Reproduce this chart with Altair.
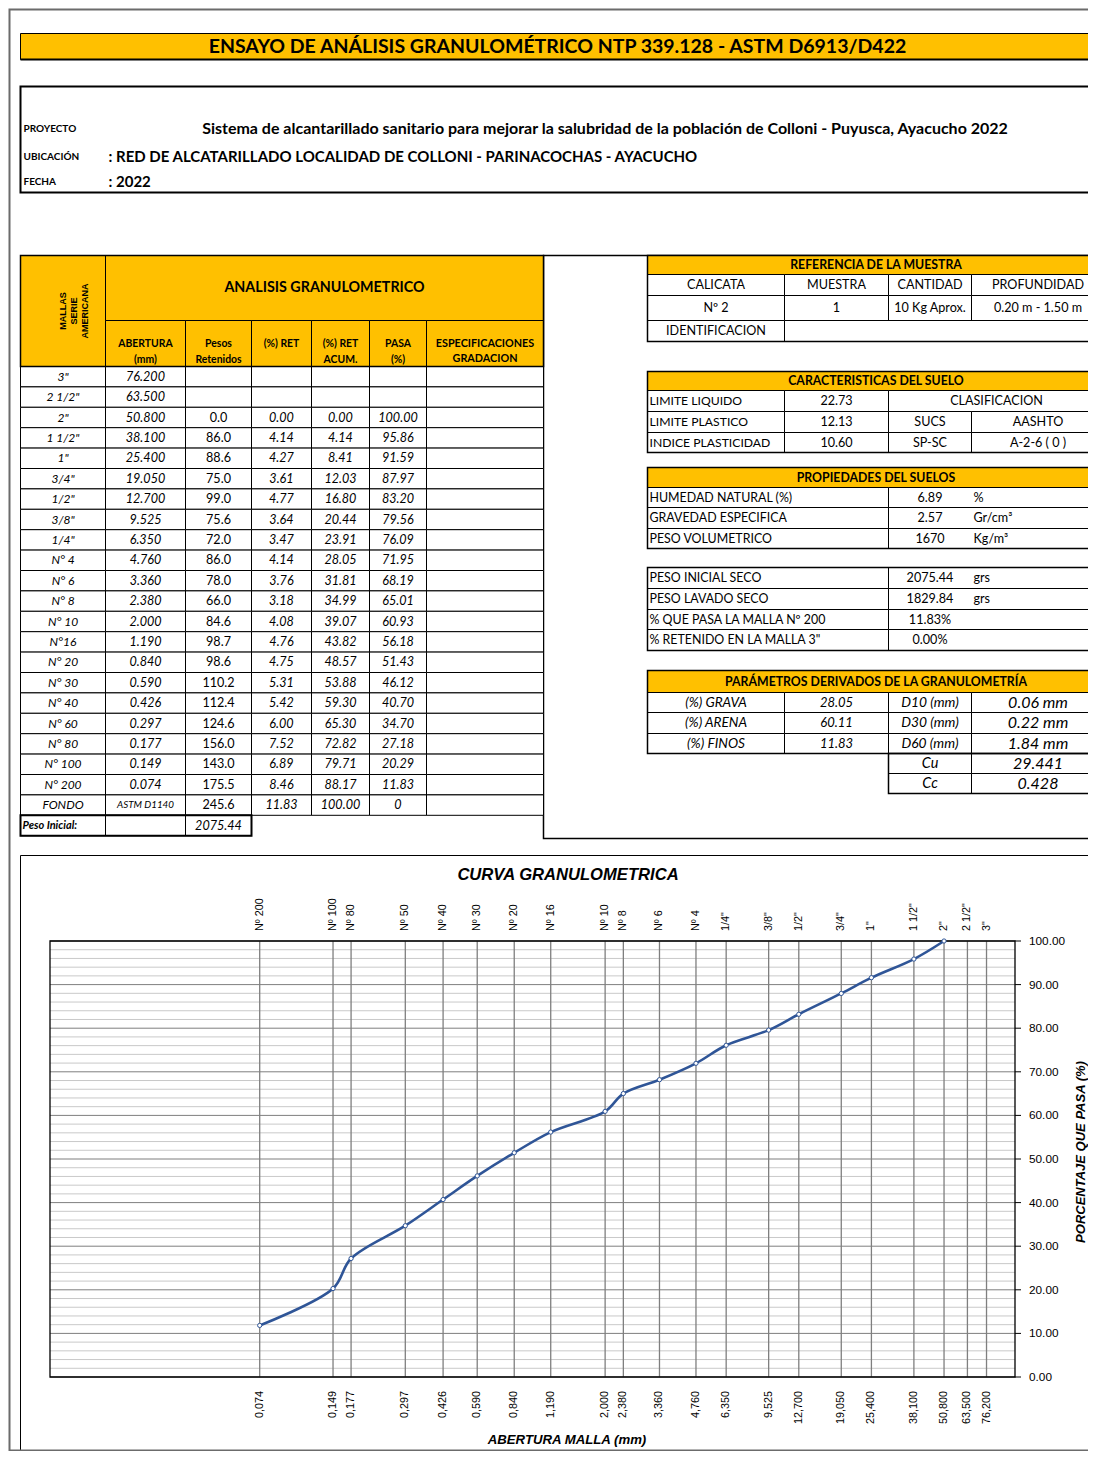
import altair as alt
import numpy as np
import pandas as pd

# ---------------------------------------------------------------- data
TITLE = "ENSAYO DE ANÁLISIS GRANULOMÉTRICO NTP 339.128 - ASTM D6913/D422"
INFO_LABELS = ["PROYECTO", "UBICACIÓN", "FECHA"]
INFO_TEXTS = [
    "Sistema de alcantarillado sanitario para mejorar la salubridad de la población de Colloni - Puyusca, Ayacucho 2022",
    ": RED DE ALCATARILLADO LOCALIDAD DE COLLONI - PARINACOCHAS - AYACUCHO",
    ": 2022",
]

SIEVES = ['3"', '2 1/2"', '2"', '1 1/2"', '1"', '3/4"', '1/2"', '3/8"', '1/4"', 'N° 4', 'N° 6',
          'N° 8', 'N° 10', 'N°16', 'N° 20', 'N° 30', 'N° 40', 'N° 60', 'N° 80', 'N° 100', 'N° 200', 'FONDO']
ABERTURA = [76.2, 63.5, 50.8, 38.1, 25.4, 19.05, 12.7, 9.525, 6.35, 4.76, 3.36, 2.38, 2.0, 1.19,
            0.84, 0.59, 0.426, 0.297, 0.177, 0.149, 0.074, None]
PESOS = [None, None, 0.0, 86.0, 88.6, 75.0, 99.0, 75.6, 72.0, 86.0, 78.0, 66.0, 84.6, 98.7, 98.6,
         110.2, 112.4, 124.6, 156.0, 143.0, 175.5, 245.6]
RET = [None, None, 0.00, 4.14, 4.27, 3.61, 4.77, 3.64, 3.47, 4.14, 3.76, 3.18, 4.08, 4.76, 4.75,
       5.31, 5.42, 6.00, 7.52, 6.89, 8.46, 11.83]
ACUM = [None, None, 0.00, 4.14, 8.41, 12.03, 16.80, 20.44, 23.91, 28.05, 31.81, 34.99, 39.07, 43.82,
        48.57, 53.88, 59.30, 65.30, 72.82, 79.71, 88.17, 100.00]
PASA = [None, None, 100.00, 95.86, 91.59, 87.97, 83.20, 79.56, 76.09, 71.95, 68.19, 65.01, 60.93,
        56.18, 51.43, 46.12, 40.70, 34.70, 27.18, 20.29, 11.83, 0]
FONDO_NOTE = "ASTM D1140"
PESO_INICIAL = 2075.44

REF_HEAD = ["CALICATA", "MUESTRA", "CANTIDAD", "PROFUNDIDAD"]
REF_VALS = ["Nº 2", "1", "10 Kg Aprox.", "0.20 m - 1.50 m"]
CARACT_LABELS = ["LIMITE LIQUIDO", "LIMITE PLASTICO", "INDICE PLASTICIDAD"]
CARACT_VALUES = [22.73, 12.13, 10.60]
CLASIF_HEAD = ["SUCS", "AASHTO"]
CLASIF_VALS = ["SP-SC", "A-2-6 ( 0 )"]
PROP_LABELS = ["HUMEDAD NATURAL (%)", "GRAVEDAD ESPECIFICA", "PESO VOLUMETRICO"]
PROP_VALUES = ["6.89", "2.57", "1670"]
PROP_UNITS = ["%", "Gr/cm³", "Kg/m³"]
PESO_LABELS = ["PESO INICIAL SECO", "PESO LAVADO SECO", "% QUE PASA LA MALLA  Nº 200",
               '% RETENIDO EN LA  MALLA   3"']
PESO_VALUES = ["2075.44", "1829.84", "11.83%", "0.00%"]
PESO_UNITS = ["grs", "grs", "", ""]
FRAC_LABELS = ["(%) GRAVA", "(%) ARENA", "(%) FINOS"]
FRAC_VALUES = [28.05, 60.11, 11.83]
D_LABELS = ["D10 (mm)", "D30 (mm)", "D60 (mm)", "Cu", "Cc"]
D_VALUES = ["0.06 mm", "0.22 mm", "1.84 mm", "29.441", "0.428"]

MALLA_NAMES = ["Nº 200", "Nº 100", "Nº 80", "Nº 50", "Nº 40", "Nº 30", "Nº 20", "Nº 16", "Nº 10",
               "Nº 8", "Nº 6", "Nº 4", '1/4"', '3/8"', '1/2"', '3/4"', '1"', '1 1/2"', '2"',
               '2 1/2"', '3"']
Y_TICKS = list(range(0, 101, 10))

# ---------------------------------------------------------------- layout / style
OFF = 8
W, H = 1080, 1443
YEL = "#FFC000"
CAL = "Lato"
ARIAL = "Liberation Sans"
BLUE = "#2F5597"
TS = 12.6  # table text size


def grid_scales(cols, rows):
    xs = alt.Scale(type="linear", domain=list(range(len(cols))),
                   range=[round(c - OFF + 0.5, 2) for c in cols], nice=False, zero=False)
    ys = alt.Scale(type="linear", domain=list(range(len(rows))),
                   range=[round(r - OFF + 0.5, 2) for r in rows], nice=False, zero=False)
    return xs, ys


def cell(r, c, text="", cs=1, rs=1, box=True, fill="white", align="center", size=TS,
         weight="normal", style="normal", font=CAL, angle=0, dx=0, color="black", lh=None):
    return dict(r=r, c=c, text=text, cs=cs, rs=rs, box=box, fill=fill, align=align, size=size,
                weight=weight, style=style, font=font, angle=angle, dx=dx, color=color,
                lh=lh if lh else size + 2)


def build_table(cells, cols, rows, outlines=(), line_w=1):
    xs, ys = grid_scales(cols, rows)
    cpx = np.asarray(cols, float)
    rpx = np.asarray(rows, float)
    ci = np.arange(len(cols), dtype=float)
    ri = np.arange(len(rows), dtype=float)
    rects, texts = [], []
    for k in cells:
        c0, c1 = k["c"], k["c"] + k["cs"]
        r0, r1 = k["r"], k["r"] + k["rs"]
        if k["box"]:
            rects.append(dict(c0=c0, c1=c1, r0=r0, r1=r1, fill=k["fill"]))
        if k["text"] != "":
            if k["align"] == "left":
                xi = float(c0)
            elif k["align"] == "right":
                xi = float(c1)
            else:
                xi = float(np.interp((cpx[c0] + cpx[c1]) / 2, cpx, ci))
            yi = float(np.interp((rpx[r0] + rpx[r1]) / 2, rpx, ri))
            t = dict(k)
            t.update(xi=xi, yi=yi)
            texts.append(t)
    layers = []
    if rects:
        layers.append(
            alt.Chart(pd.DataFrame(rects)).mark_rect(stroke="black", strokeWidth=line_w).encode(
                x=alt.X("c0:Q", scale=xs, axis=None), x2="c1:Q",
                y=alt.Y("r0:Q", scale=ys, axis=None), y2="r1:Q",
                fill=alt.Fill("fill:N", scale=None, legend=None)))
    if outlines:
        odf = pd.DataFrame(outlines, columns=["c0", "c1", "r0", "r1", "w", "col"])
        for (w, col), g in odf.groupby(["w", "col"]):
            layers.append(
                alt.Chart(g).mark_rect(fillOpacity=0, stroke=col, strokeWidth=float(w)).encode(
                    x=alt.X("c0:Q", scale=xs, axis=None), x2="c1:Q",
                    y=alt.Y("r0:Q", scale=ys, axis=None), y2="r1:Q"))
    if texts:
        tdf = pd.DataFrame(texts)
        keys = ["align", "size", "weight", "style", "font", "angle", "dx", "color", "lh"]
        for key, g in tdf.groupby(keys):
            a, s, wt, st, f, ang, dx, col, lh = key
            layers.append(
                alt.Chart(g[["xi", "yi", "text"]]).mark_text(
                    align=a, baseline="middle", fontSize=float(s), fontWeight=wt, fontStyle=st,
                    font=f, angle=float(ang), dx=float(dx), color=col, lineBreak="\n",
                    lineHeight=float(lh)).encode(
                    x=alt.X("xi:Q", scale=xs, axis=None),
                    y=alt.Y("yi:Q", scale=ys, axis=None),
                    text="text:N"))
    return alt.layer(*layers)


# ---------------------------------------------------------------- page frame
P_COLS = [9, 20, 543, 1104]
P_ROWS = [9, 255, 838, 855, 1450]
page_layer = build_table([], P_COLS, P_ROWS, outlines=[
    (0, 3, 0, 4, 2, "#6b6b6b"),
    (2, 3, 1, 2, 1.5, "black"),
    (1, 3, 3, 4, 1, "black"),
])

# ---------------------------------------------------------------- header
H_COLS = [20, 105, 1104]
H_ROWS = [33, 59, 86, 114, 142, 170, 192]
hcells = [cell(0, 0, TITLE, cs=2, fill=YEL, size=19.5, weight="bold", dx=-5)]
for i, (lab, txt) in enumerate(zip(INFO_LABELS, INFO_TEXTS)):
    hcells.append(cell(3 + i, 0, lab, box=False, align="left", dx=3, size=10, weight="bold"))
    if i == 0:
        hcells.append(cell(3 + i, 1, txt, box=False, size=16, weight="bold"))
    else:
        hcells.append(cell(3 + i, 1, txt, box=False, align="left", dx=3, size=15, weight="bold"))
header_layer = build_table(hcells, H_COLS, H_ROWS,
                           outlines=[(0, 2, 1, 1, 2, "black"), (0, 2, 2, 6, 2, "black")])

# ---------------------------------------------------------------- left table
L_COLS = [20, 105, 185, 251, 311, 369, 426, 543]
L_ROWS = [255, 320, 366] + [round(366 + 20.4 * i, 1) for i in range(1, 24)]
lcells = [
    cell(0, 0, "MALLAS\nSERIE\nAMERICANA", rs=2, fill=YEL, size=9, weight="bold", font=ARIAL,
         angle=270, lh=11),
    cell(0, 1, "ANALISIS GRANULOMETRICO", cs=6, fill=YEL, size=14.3, weight="bold"),
    cell(1, 1, "ABERTURA\n(mm)", fill=YEL, size=10.4, weight="bold", lh=16),
    cell(1, 2, "Pesos\nRetenidos", fill=YEL, size=10.4, weight="bold", lh=16),
    cell(1, 3, "(%) RET", fill=YEL, size=10.4, weight="bold"),
    cell(1, 4, "(%) RET\nACUM.", fill=YEL, size=10.4, weight="bold", lh=16),
    cell(1, 5, "PASA\n(%)", fill=YEL, size=10.4, weight="bold", lh=16),
    cell(1, 6, "ESPECIFICACIONES\nGRADACION", fill=YEL, size=10.8, weight="bold", lh=15),
]


def fmt(v, d):
    if v is None:
        return ""
    if isinstance(v, int):
        return str(v)
    return f"{v:.{d}f}"


for i in range(len(SIEVES)):
    r = 2 + i
    lcells.append(cell(r, 0, SIEVES[i], size=12, style="italic"))
    if ABERTURA[i] is None:
        lcells.append(cell(r, 1, FONDO_NOTE, size=9.8, style="italic"))
    else:
        lcells.append(cell(r, 1, fmt(ABERTURA[i], 3), style="italic"))
    lcells.append(cell(r, 2, fmt(PESOS[i], 1)))
    lcells.append(cell(r, 3, fmt(RET[i], 2), style="italic"))
    lcells.append(cell(r, 4, fmt(ACUM[i], 2), style="italic"))
    lcells.append(cell(r, 5, fmt(PASA[i], 2), style="italic"))
    lcells.append(cell(r, 6, ""))
lcells += [
    cell(24, 0, "Peso Inicial:", align="left", dx=2, size=11, weight="bold", style="italic"),
    cell(24, 1, ""),
    cell(24, 2, f"{PESO_INICIAL:.2f}", style="italic"),
]
left_layer = build_table(lcells, L_COLS, L_ROWS, outlines=[
    (0, 7, 0, 2, 1.5, "black"), (0, 3, 24, 25, 2, "black")])

# ---------------------------------------------------------------- right tables
R_COLS = [647, 784, 888, 971, 1104]
R_ROWS = [255, 274, 295, 320, 341, 371, 390, 411, 432, 452, 467, 487, 507, 528, 548,
          567, 588, 609, 629, 650, 670, 692, 712, 733, 753, 773, 793]
HS = dict(fill=YEL, size=12.3, weight="bold")
rcells = [cell(0, 0, "REFERENCIA DE LA MUESTRA", cs=4, **HS)]
for j in range(4):
    rcells.append(cell(1, j, REF_HEAD[j]))
    rcells.append(cell(2, j, REF_VALS[j]))
rcells += [cell(3, 0, "IDENTIFICACION"), cell(3, 1, "", cs=3)]

rcells.append(cell(5, 0, "CARACTERISTICAS DEL SUELO", cs=4, **HS))
for i in range(3):
    r = 6 + i
    rcells.append(cell(r, 0, CARACT_LABELS[i], align="left", dx=2, size=12.2))
    rcells.append(cell(r, 1, f"{CARACT_VALUES[i]:.2f}"))
rcells.append(cell(6, 2, "CLASIFICACION", cs=2))
for j in range(2):
    rcells.append(cell(7, 2 + j, CLASIF_HEAD[j]))
    rcells.append(cell(8, 2 + j, CLASIF_VALS[j]))

rcells.append(cell(10, 0, "PROPIEDADES DEL SUELOS", cs=4, **HS))
for i in range(3):
    r = 11 + i
    rcells.append(cell(r, 0, PROP_LABELS[i], cs=2, align="left", dx=2, size=12.4))
    rcells.append(cell(r, 2, "", cs=2))
    rcells.append(cell(r, 2, PROP_VALUES[i], box=False))
    rcells.append(cell(r, 3, PROP_UNITS[i], box=False, align="left", dx=2))

for i in range(4):
    r = 15 + i
    rcells.append(cell(r, 0, PESO_LABELS[i], cs=2, align="left", dx=2, size=12.4))
    rcells.append(cell(r, 2, "", cs=2))
    rcells.append(cell(r, 2, PESO_VALUES[i], box=False))
    if PESO_UNITS[i]:
        rcells.append(cell(r, 3, PESO_UNITS[i], box=False, align="left", dx=2))

rcells.append(cell(20, 0, "PARÁMETROS DERIVADOS DE LA GRANULOMETRÍA", cs=4, **HS))
for i in range(3):
    r = 21 + i
    rcells.append(cell(r, 0, FRAC_LABELS[i], size=13.6, style="italic"))
    rcells.append(cell(r, 1, f"{FRAC_VALUES[i]:.2f}", size=13, style="italic"))
for i in range(5):
    r = 21 + i
    rcells.append(cell(r, 2, D_LABELS[i], size=13.8 if i < 3 else 14.5, style="italic"))
    rcells.append(cell(r, 3, D_VALUES[i], size=16, style="italic"))
right_layer = build_table(rcells, R_COLS, R_ROWS, outlines=[
    (0, 4, 0, 4, 1.5, "black"), (0, 4, 5, 9, 1.5, "black"), (0, 4, 10, 14, 1.5, "black"),
    (0, 4, 15, 19, 1.5, "black"), (0, 4, 20, 24, 1.5, "black"), (2, 4, 24, 26, 1.5, "black")])

# ---------------------------------------------------------------- graph
xs_g = alt.Scale(type="log", domain=[0.01, 100], range=[50 - OFF, 1015 - OFF], nice=False)
ys_g = alt.Scale(type="linear", domain=[0, 100], range=[1377 - OFF, 941 - OFF], nice=False,
                 zero=False)
XG = lambda f: alt.X(f, scale=xs_g, axis=None)
YG = lambda f: alt.Y(f, scale=ys_g, axis=None)

open_g = sorted(a for a in ABERTURA if a is not None)
curve = pd.DataFrame(sorted((a, p) for a, p in zip(ABERTURA, PASA)
                            if a is not None and p is not None), columns=["abertura", "pasa"])
hgrid = pd.DataFrame({"v": list(range(0, 101, 2))})
hgrid["x0"], hgrid["x1"] = 0.01, 100
hgrid["major"] = hgrid["v"] % 10 == 0
vgrid = pd.DataFrame({"abertura": open_g, "y0": 0, "y1": 100})
frame = pd.DataFrame({"x0": [0.01], "x1": [100], "y0": [0], "y1": [100]})
ylab = pd.DataFrame({"v": Y_TICKS, "t": [f"{v:.2f}" for v in Y_TICKS]})
toplab = pd.DataFrame({"abertura": open_g, "t": MALLA_NAMES})
botlab = pd.DataFrame({"abertura": open_g, "t": [f"{a:.3f}".replace(".", ",") for a in open_g]})

g_layers = [
    alt.Chart(hgrid[~hgrid["major"]]).mark_rule(color="#c9c9c9", strokeWidth=1).encode(
        x=XG("x0:Q"), x2="x1:Q", y=YG("v:Q")),
    alt.Chart(hgrid[hgrid["major"]]).mark_rule(color="#7f7f7f", strokeWidth=1).encode(
        x=XG("x0:Q"), x2="x1:Q", y=YG("v:Q")),
    alt.Chart(vgrid).mark_rule(color="#7f7f7f", strokeWidth=1.3).encode(
        x=XG("abertura:Q"), y=YG("y0:Q"), y2="y1:Q"),
    alt.Chart(frame).mark_rect(fillOpacity=0, stroke="black", strokeWidth=1.3).encode(
        x=XG("x0:Q"), x2="x1:Q", y=YG("y0:Q"), y2="y1:Q"),
    alt.Chart(ylab).mark_rule(color="black", strokeWidth=1).encode(
        x=alt.value(1015 - OFF), x2=alt.value(1021 - OFF), y=YG("v:Q")),
    alt.Chart(curve).mark_line(color=BLUE, strokeWidth=2.6, interpolate="catmull-rom").encode(
        x=XG("abertura:Q"), y=YG("pasa:Q")),
    alt.Chart(curve).mark_point(shape="circle", filled=True, fill="white", stroke=BLUE,
                                strokeWidth=1, size=18, opacity=1).encode(
        x=XG("abertura:Q"), y=YG("pasa:Q")),
    alt.Chart(ylab).mark_text(align="left", baseline="middle", fontSize=11.8, font=ARIAL,
                              color="black").encode(
        x=alt.value(1029 - OFF), y=YG("v:Q"), text="t:N"),
    alt.Chart(toplab).mark_text(align="left", baseline="middle", angle=270, fontSize=10.8,
                                font=ARIAL, color="black").encode(
        x=XG("abertura:Q"), y=alt.value(931 - OFF), text="t:N"),
    alt.Chart(botlab).mark_text(align="right", baseline="middle", angle=270, fontSize=10.8,
                                font=ARIAL, color="black").encode(
        x=XG("abertura:Q"), y=alt.value(1391 - OFF), text="t:N"),
    alt.Chart(pd.DataFrame({"t": ["CURVA GRANULOMETRICA"]})).mark_text(
        align="center", baseline="middle", fontSize=16.6, font=ARIAL, fontWeight="bold",
        fontStyle="italic", color="black").encode(
        x=alt.value(568 - OFF), y=alt.value(875 - OFF), text="t:N"),
    alt.Chart(pd.DataFrame({"t": ["ABERTURA MALLA (mm)"]})).mark_text(
        align="center", baseline="middle", fontSize=13.2, font=ARIAL, fontWeight="bold",
        fontStyle="italic", color="black").encode(
        x=alt.value(567 - OFF), y=alt.value(1440 - OFF), text="t:N"),
    alt.Chart(pd.DataFrame({"t": ["PORCENTAJE QUE PASA (%)"]})).mark_text(
        align="center", baseline="middle", fontSize=13, font=ARIAL, fontWeight="bold",
        fontStyle="italic", angle=270, color="black").encode(
        x=alt.value(1081 - OFF), y=alt.value(1152 - OFF), text="t:N"),
]
graph_layer = alt.layer(*g_layers)

chart = (
    alt.layer(page_layer, header_layer, left_layer, right_layer, graph_layer)
    .resolve_scale(x="independent", y="independent")
    .properties(width=W, height=H, padding=0, autosize=alt.AutoSizeParams(type="none"),
                background="white")
    .configure_view(strokeWidth=0)
)

chart.save("out.html", embed_options={"renderer": "svg", "actions": False})
